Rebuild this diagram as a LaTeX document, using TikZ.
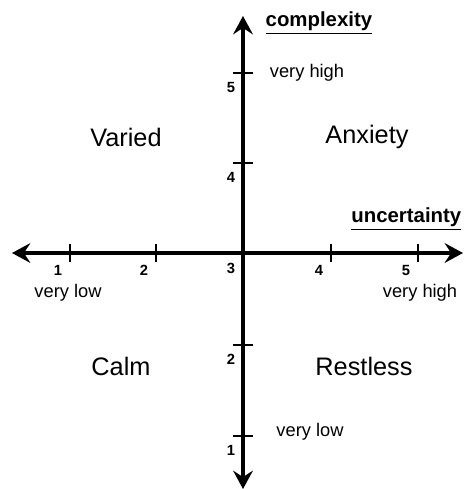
\documentclass[tikz,border=0pt]{standalone}
\usepackage{fontspec}
\setmainfont{Liberation Sans}
\usetikzlibrary{arrows.meta, positioning, calc}

\begin{document}
\begin{tikzpicture}[x=0.025cm, y=-0.025cm]
        % Define styles
        \tikzstyle{axis} = [line width=3pt, {Stealth[length=13pt, width=14pt, inset=4.5pt]}-{Stealth[length=13pt, width=14pt, inset=4.5pt]}]
        \tikzstyle{tick} = [line width=0.9pt]
        \tikzstyle{num} = [font=\fontsize{10.5}{12}\selectfont\bfseries, inner sep=0pt]
        \tikzstyle{level} = [font=\fontsize{13}{15}\selectfont, inner sep=0pt]
        \tikzstyle{quadrant} = [font=\fontsize{18}{21}\selectfont, inner sep=0pt]
        \tikzstyle{title} = [font=\fontsize{14.5}{17}\selectfont\bfseries, inner sep=1pt]

        \useasboundingbox (0,0) rectangle (463,489);

        % Axis end points
        \coordinate (west) at (12,253);
        \coordinate (east) at (463,253);
        \coordinate (north) at (243,16);
        \coordinate (south) at (243,489);

        % Axes
        \draw [axis] (west) -- (east);
        \draw [axis] (south) -- (north);

        % Ticks on uncertainty axis
        \foreach \n/\x in {1/70, 2/156, 4/331, 5/418} {
            \draw [tick] (\x,244) -- (\x,262);
            \node [num] at (\x-12,270) {\n};
        }
        \node [num] at (231,268) {3};

        % Ticks on complexity axis
        \foreach \n/\y in {5/73, 4/163, 2/345, 1/436} {
            \draw [tick] (233,\y) -- (253,\y);
            \node [num] at (231,\y+14) {\n};
        }

        % Axis titles
        \node (complexity) [title, anchor=west] at (264,23) {\underline{complexity}};
        \node (uncertainty) [title, anchor=east] at (463,219) {\underline{uncertainty}};

        % Levels
        \node (cxhigh) [level] at (307,73) {very high};
        \node (cxlow) [level] at (310,432) {very low};
        \node (unlow) [level] at (68,293) {very low};
        \node (unhigh) [level] at (420,293) {very high};

        % Quadrants
        \node (varied) [quadrant] at (126,137) {Varied};
        \node (anxiety) [quadrant] at (367,137) {Anxiety};
        \node (calm) [quadrant] at (121,366) {Calm};
        \node (restless) [quadrant] at (364,366) {Restless};
    \end{tikzpicture}
\end{document}
